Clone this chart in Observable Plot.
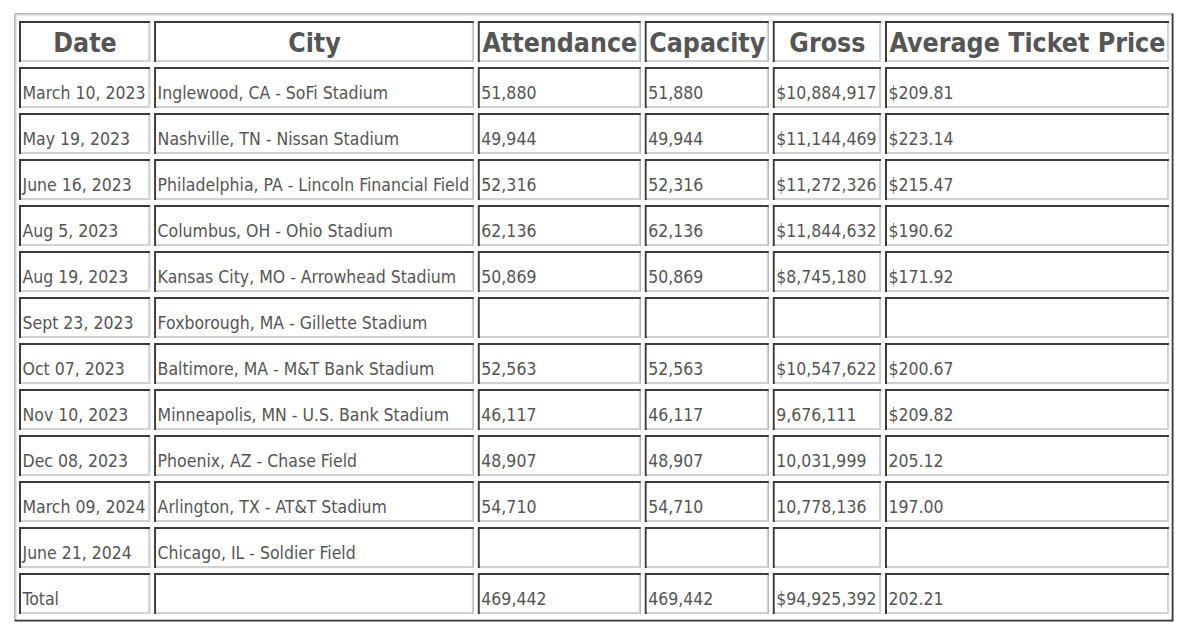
<!DOCTYPE html>
<html><head><meta charset="utf-8">
<script src="https://cdn.jsdelivr.net/npm/d3@7"></script>
<script src="https://cdn.jsdelivr.net/npm/@observablehq/plot@0.6"></script>
<style>html,body{margin:0;padding:0;background:#fff;overflow:hidden}</style>
</head><body><div id="chart"></div>
<script>
const headers = ["Date", "City", "Attendance", "Capacity", "Gross", "Average Ticket Price"];
const dates = ["March 10, 2023", "May 19, 2023", "June 16, 2023", "Aug 5, 2023", "Aug 19, 2023", "Sept 23, 2023", "Oct 07, 2023", "Nov 10, 2023", "Dec 08, 2023", "March 09, 2024", "June 21, 2024", "Total"];
const cities = ["Inglewood, CA - SoFi Stadium", "Nashville, TN - Nissan Stadium", "Philadelphia, PA - Lincoln Financial Field", "Columbus, OH - Ohio Stadium", "Kansas City, MO - Arrowhead Stadium", "Foxborough, MA - Gillette Stadium", "Baltimore, MA - M&T Bank Stadium", "Minneapolis, MN - U.S. Bank Stadium", "Phoenix, AZ - Chase Field", "Arlington, TX - AT&T Stadium", "Chicago, IL - Soldier Field", ""];
const attendance = ["51,880", "49,944", "52,316", "62,136", "50,869", "", "52,563", "46,117", "48,907", "54,710", "", "469,442"];
const capacity = ["51,880", "49,944", "52,316", "62,136", "50,869", "", "52,563", "46,117", "48,907", "54,710", "", "469,442"];
const gross = ["$10,884,917", "$11,144,469", "$11,272,326", "$11,844,632", "$8,745,180", "", "$10,547,622", "9,676,111", "10,031,999", "10,778,136", "", "$94,925,392"];
const avgPrice = ["$209.81", "$223.14", "$215.47", "$190.62", "$171.92", "", "$200.67", "$209.82", "205.12", "197.00", "", "202.21"];

const FONT = '"DejaVu Sans Condensed", "DejaVu Sans", sans-serif';
const HEAD_SIZE = 26.5, BODY_SIZE = 17.5;
const TEXT = "#555555";
const DARK = "#3a3a3a", LIGHT = "#d2d2d2";
const PAD = 4, SPACING = 4;

const columns = [dates, cities, attendance, capacity, gross, avgPrice];
const nRows = dates.length + 1;
const rows = d3.range(nRows);

const ctx = document.createElement("canvas").getContext("2d");
function measure(s, size, weight) { ctx.font = `${weight} ${size}px ${FONT}`; return ctx.measureText(s).width; }
const colW = headers.map((h, c) => Math.max(measure(h, HEAD_SIZE, "bold"), ...columns[c].map(v => measure(v, BODY_SIZE, "normal"))) + 2 * PAD);
const colX1 = []; let acc = 0;
colW.forEach(w => { colX1.push(acc); acc += w + SPACING; });
const tableW = acc - SPACING;

const cells = [];
for (let r = 0; r < nRows; r++) for (let c = 0; c < headers.length; c++) {
  cells.push({row: r, col: c, x1: colX1[c], x2: colX1[c] + colW[c], text: r === 0 ? headers[c] : columns[c][r - 1], header: r === 0});
}

const plot = Plot.plot({
  width: 1200, height: 633,
  marginLeft: 14, marginRight: 27, marginTop: 13, marginBottom: 12,
  style: {fontFamily: FONT, background: "#fff"},
  x: {type: "linear", domain: [0, tableW], insetLeft: 5, insetRight: 4, axis: null},
  y: {type: "band", domain: rows, paddingInner: 0.1, paddingOuter: 0, insetTop: 5, insetBottom: 4, axis: null},
  marks: [
    Plot.frame({fill: DARK, stroke: null}),
    Plot.frame({fill: LIGHT, stroke: null, insetRight: 2, insetBottom: 2}),
    Plot.frame({fill: "white", stroke: null, inset: 2}),
    Plot.barX(cells, {x1: "x1", x2: "x2", y: "row", fill: DARK}),
    Plot.barX(cells, {x1: "x1", x2: "x2", y: "row", fill: LIGHT, insetTop: 2, insetLeft: 2}),
    Plot.barX(cells, {x1: "x1", x2: "x2", y: "row", fill: "white", inset: 2}),
    Plot.text(cells.filter(d => d.header), {x: d => (d.x1 + d.x2) / 2, y: "row", text: "text", fontSize: HEAD_SIZE, fontWeight: "bold", fill: TEXT, dy: 1.5}),
    Plot.text(cells.filter(d => !d.header), {x: d => d.x1 + PAD - 1, y: "row", text: "text", textAnchor: "start", fontSize: BODY_SIZE, fill: TEXT, dy: 5})
  ]
});
document.getElementById("chart").appendChild(plot);
</script>
</body></html>
